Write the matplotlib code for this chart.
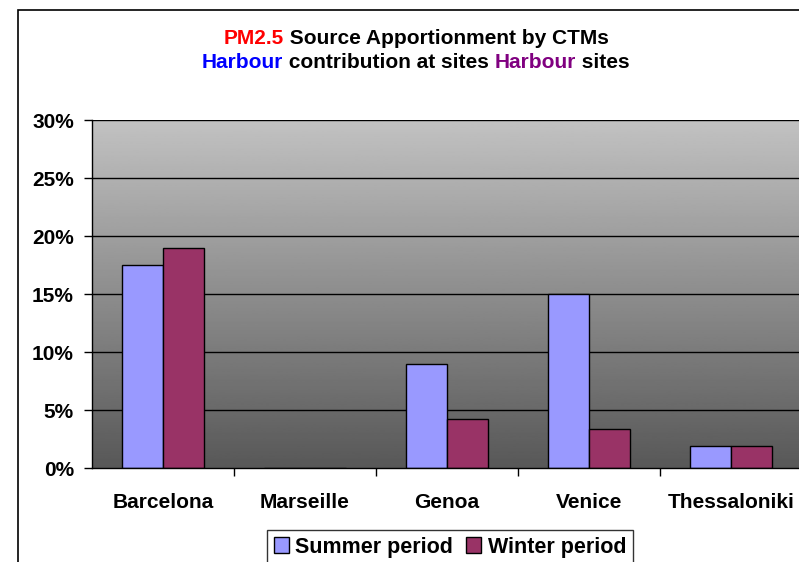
import numpy as np
import matplotlib
matplotlib.use('Agg')
import matplotlib.pyplot as plt
from matplotlib.patches import Rectangle
from matplotlib.ticker import FuncFormatter, FixedLocator

plt.rcParams['font.family'] = ['Liberation Sans', 'DejaVu Sans']
plt.rcParams['font.weight'] = 'bold'

sites = ['Barcelona', 'Marseille', 'Genoa', 'Venice', 'Thessaloniki']
summer = [17.5, 0.0, 9.0, 15.0, 1.9]
winter = [19.0, 0.0, 4.2, 3.4, 1.9]

fig = plt.figure(figsize=(7.99, 5.62), dpi=100)
W, H = 799, 562

# outer chart border
fig.patches.append(Rectangle((18 / W, -0.1), 1.2, (H - 10) / H + 0.1,
                             transform=fig.transFigure, fill=False,
                             edgecolor='black', linewidth=1.2))

ax = fig.add_axes([92 / W, (H - 468) / H, 710 / W, 348 / H])
x = np.arange(len(sites))
bw = 0.29

# gradient background
grad = np.linspace(0.345, 0.76, 256).reshape(-1, 1)
ax.imshow(grad, cmap='gray', vmin=0, vmax=1, origin='lower', aspect='auto',
          extent=[-0.5, len(sites) - 0.5, 0, 30], zorder=0)

for y in range(5, 31, 5):
    ax.axhline(y, color='black', linewidth=1.0, zorder=1)

ax.bar(x - bw / 2, summer, bw, color='#9999FF', edgecolor='black', linewidth=1.0,
       label='Summer period', zorder=2)
ax.bar(x + bw / 2, winter, bw, color='#993366', edgecolor='black', linewidth=1.0,
       label='Winter period', zorder=2)

ax.set_xlim(-0.5, len(sites) - 0.5)
ax.set_ylim(0, 30)
ax.set_yticks(range(0, 31, 5))
ax.yaxis.set_major_formatter(FuncFormatter(lambda v, p: '%d%%' % v))
ax.set_xticks(x)
ax.set_xticklabels(sites)
ax.xaxis.set_minor_locator(FixedLocator(np.arange(0.5, len(sites) - 1, 1)))
ax.tick_params(axis='x', which='major', length=0, pad=18, labelsize=15)
ax.tick_params(axis='x', which='minor', length=6, direction='out', width=1)
ax.tick_params(axis='y', length=6, direction='out', width=1, pad=7, labelsize=15)
for lab in ax.get_xticklabels() + ax.get_yticklabels():
    lab.set_fontweight('bold')
for s in ['top', 'right']:
    ax.spines[s].set_visible(False)
ax.spines['left'].set_linewidth(1.0)
ax.spines['bottom'].set_linewidth(1.0)

# multicoloured title lines
def colored_line(parts, ycen, size):
    texts = []
    for txt, col in parts:
        texts.append(fig.text(0, ycen, txt, color=col, fontsize=size,
                              fontweight='bold', va='center', ha='left'))
    fig.canvas.draw()
    r = fig.canvas.get_renderer()
    widths = [t.get_window_extent(r).width for t in texts]
    total = sum(widths)
    xpos = 416 - total / 2
    for t, w in zip(texts, widths):
        t.set_x(xpos / W)
        xpos += w

colored_line([('PM2.5', 'red'), (' Source Apportionment by CTMs', 'black')],
             1 - 38 / H, 15)
colored_line([('Harbour', 'blue'), (' contribution at sites ', 'black'),
              ('Harbour', '#800080'), (' sites', 'black')], 1 - 63 / H, 15)

leg = fig.legend(loc='center', bbox_to_anchor=(450 / W, 1 - 547 / H), ncol=2,
                 frameon=True, fancybox=False, edgecolor='black',
                 prop={'weight': 'bold', 'size': 15.5}, handlelength=0.7,
                 handleheight=0.7, handletextpad=0.3, columnspacing=0.6,
                 borderpad=0.3)
leg.get_frame().set_linewidth(1.0)

fig.savefig('out.png', dpi=100)
